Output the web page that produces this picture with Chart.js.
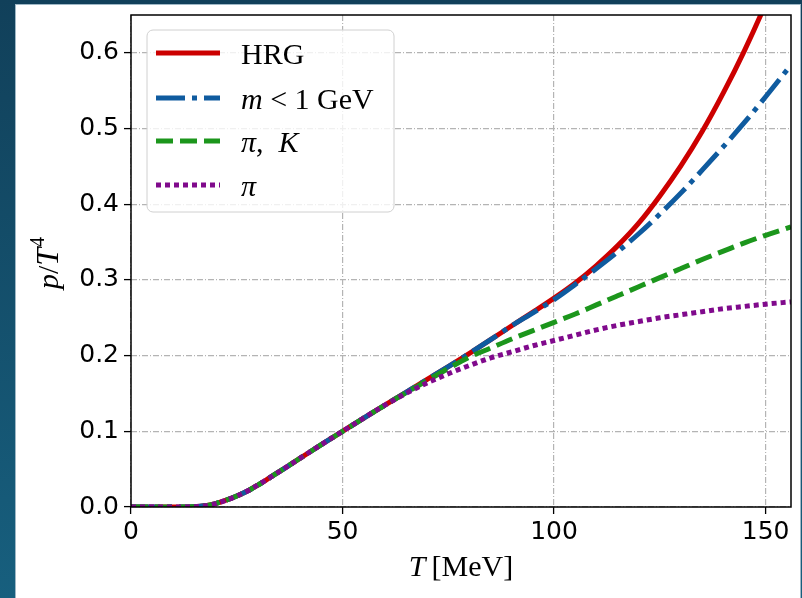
<!DOCTYPE html>
<html>
<head>
<meta charset="utf-8">
<title>p/T^4 vs T</title>
<script src="https://cdn.jsdelivr.net/npm/chart.js@4.4.0/dist/chart.umd.min.js"></script>
<style>
  html, body { margin: 0; padding: 0; }
  body {
    width: 802px; height: 598px; overflow: hidden; position: relative;
    background: linear-gradient(#11405a, #175f7e);
  }
  #panel {
    position: absolute; left: 16px; top: 5px; width: 784px; height: 593px;
    background: #fff; box-shadow: 0 0 0 1px #9fb8c6;
  }
  #pressureChart { position: absolute; left: 16px; top: -5px; }
</style>
</head>
<body>
<div id="panel"></div>
<canvas id="pressureChart" width="784" height="603"></canvas>
<script>
// temperature grid in MeV
const temps = [0, 5, 10, 15, 18, 20, 22, 25, 28, 30, 33, 36, 40, 43, 46, 50, 55, 60, 65,
               70, 75, 80, 85, 90, 95, 100, 105, 110, 115, 120, 125, 130, 135, 140, 145, 150, 156];

// p/T^4 for each particle content
const hrg    = [0, 0, 0, 0.0005, 0.002, 0.0045, 0.008, 0.0145, 0.0225, 0.029, 0.0395, 0.050, 0.0645, 0.0753, 0.086, 0.100, 0.1175, 0.1345, 0.1515,
                0.1685, 0.1855, 0.203, 0.221, 0.2395, 0.2575, 0.276, 0.296, 0.319, 0.345, 0.375, 0.411, 0.451, 0.496, 0.547, 0.603, 0.665, 0.749];
const mLight = [0, 0, 0, 0.0005, 0.002, 0.0045, 0.008, 0.0145, 0.0225, 0.029, 0.0395, 0.050, 0.0645, 0.0753, 0.086, 0.100, 0.1175, 0.1345, 0.1515,
                0.1685, 0.1855, 0.203, 0.221, 0.2395, 0.2565, 0.274, 0.294, 0.315, 0.337, 0.361, 0.387, 0.415, 0.445, 0.476, 0.508, 0.542, 0.584];
const pionKaon = [0, 0, 0, 0.0005, 0.002, 0.0045, 0.008, 0.0145, 0.0225, 0.029, 0.0395, 0.050, 0.0645, 0.0753, 0.086, 0.100, 0.1175, 0.1345, 0.151,
                0.167, 0.183, 0.198, 0.210, 0.222, 0.233, 0.244, 0.255, 0.267, 0.279, 0.291, 0.303, 0.315, 0.327, 0.338, 0.349, 0.359, 0.370];
const pion   = [0, 0, 0, 0.0005, 0.002, 0.0045, 0.008, 0.0145, 0.0225, 0.029, 0.0395, 0.050, 0.0645, 0.0753, 0.086, 0.100, 0.1175, 0.1345, 0.150,
                0.164, 0.176, 0.187, 0.197, 0.205, 0.213, 0.220, 0.227, 0.234, 0.240, 0.245, 0.250, 0.254, 0.258, 0.262, 0.265, 0.268, 0.271];

const xTicks = [0, 50, 100, 150];
const yTicks = [0.0, 0.1, 0.2, 0.3, 0.4, 0.5, 0.6];

const SERIF = '"Liberation Serif", "Times New Roman", serif';
const tickFont = { family: '"DejaVu Sans", sans-serif', size: 25 };

const series = [
  { values: hrg,      color: '#cc0000', dash: [],            order: 4,
    label: [{ t: 'HRG' }] },
  { values: mLight,   color: '#0f5b9f', dash: [29, 7, 5, 7], order: 3,
    label: [{ t: 'm', it: true }, { t: ' < 1 GeV' }] },
  { values: pionKaon, color: '#1c961c', dash: [17, 7],       order: 2,
    label: [{ t: 'π', it: true }, { t: ',  ' }, { t: 'K', it: true }] },
  { values: pion,     color: '#800a8c', dash: [5, 4],        order: 1,
    label: [{ t: 'π', it: true }] }
];

function toPoints(ys) {
  return temps.map((t, i) => ({ x: t, y: ys[i] }));
}

// draws a run of text pieces, switching between upright and italic
function drawRuns(ctx, runs, x, y, size) {
  let cx = x;
  runs.forEach(r => {
    ctx.font = (r.it ? 'italic ' : '') + (r.sz || size) + 'px ' + SERIF;
    ctx.fillText(r.t, cx, y + (r.dy || 0));
    cx += ctx.measureText(r.t).width + (r.gap || 0);
  });
  return cx - x;
}

function runsWidth(ctx, runs, size) {
  let w = 0;
  runs.forEach(r => {
    ctx.font = (r.it ? 'italic ' : '') + (r.sz || size) + 'px ' + SERIF;
    w += ctx.measureText(r.t).width + (r.gap || 0);
  });
  return w;
}

const frameAndLegend = {
  id: 'frameAndLegend',
  afterDatasetsDraw(chart) {
    const ctx = chart.ctx;
    const a = chart.chartArea;
    ctx.save();

    // axes frame
    ctx.strokeStyle = '#000';
    ctx.lineWidth = 1.5;
    ctx.setLineDash([]);
    ctx.strokeRect(a.left, a.top, a.right - a.left, a.bottom - a.top);

    // legend box
    const bx = a.left + 16, by = a.top + 15, bw = 247, bh = 182, r = 6;
    ctx.beginPath();
    ctx.moveTo(bx + r, by);
    ctx.arcTo(bx + bw, by, bx + bw, by + bh, r);
    ctx.arcTo(bx + bw, by + bh, bx, by + bh, r);
    ctx.arcTo(bx, by + bh, bx, by, r);
    ctx.arcTo(bx, by, bx + bw, by, r);
    ctx.closePath();
    ctx.fillStyle = 'rgba(255,255,255,0.8)';
    ctx.fill();
    ctx.strokeStyle = '#d0d0d0';
    ctx.lineWidth = 1;
    ctx.stroke();

    const rowY = [23, 68, 111, 155];
    series.forEach((s, i) => {
      const y = by + rowY[i];
      ctx.beginPath();
      ctx.setLineDash(s.dash);
      ctx.lineCap = 'butt';
      ctx.strokeStyle = s.color;
      ctx.lineWidth = 5;
      ctx.moveTo(bx + 9, y);
      ctx.lineTo(bx + 73, y);
      ctx.stroke();
      ctx.setLineDash([]);
      ctx.fillStyle = '#000';
      ctx.textBaseline = 'alphabetic';
      drawRuns(ctx, s.label, bx + 94, y + 11, 30);
    });
    ctx.restore();
  },
  afterDraw(chart) {
    const ctx = chart.ctx;
    const a = chart.chartArea;
    ctx.save();
    ctx.fillStyle = '#000';
    ctx.textBaseline = 'alphabetic';

    // x title: T [MeV]
    const xRuns = [{ t: 'T', it: true, gap: 6 }, { t: '[MeV]' }];
    const xw = runsWidth(ctx, xRuns, 30);
    drawRuns(ctx, xRuns, (a.left + a.right) / 2 - xw / 2, a.bottom + 69, 30);

    // y title: p/T^4, rotated
    const yRuns = [{ t: 'p', it: true }, { t: '/' }, { t: 'T', it: true, gap: 1, sz: 32 }, { t: '4', sz: 20, dy: -14 }];
    const yw = runsWidth(ctx, yRuns, 30);
    ctx.translate(42, (a.top + a.bottom) / 2 + 2);
    ctx.rotate(-Math.PI / 2);
    drawRuns(ctx, yRuns, -yw / 2, 0, 30);
    ctx.restore();
  }
};

new Chart(document.getElementById('pressureChart'), {
  type: 'line',
  data: {
    datasets: series.map(s => ({
      data: toPoints(s.values),
      borderColor: s.color,
      borderWidth: 5,
      borderDash: s.dash,
      borderCapStyle: 'butt',
      cubicInterpolationMode: 'monotone',
      pointRadius: 0,
      fill: false,
      order: s.order,
      clip: 0
    }))
  },
  options: {
    responsive: false,
    animation: false,
    devicePixelRatio: 1,
    layout: { padding: { left: 0, top: 0, right: 9, bottom: 0 } },
    plugins: { legend: { display: false }, tooltip: { enabled: false } },
    scales: {
      x: {
        type: 'linear',
        min: 0,
        max: 156,
        afterFit: scale => { scale.height = 91; },
        afterBuildTicks: scale => { scale.ticks = xTicks.map(v => ({ value: v })); },
        ticks: { font: tickFont, color: '#000', padding: 3, maxRotation: 0 },
        grid: { color: '#b4b4b4', lineWidth: 1.2, tickLength: 7, tickColor: '#000', tickWidth: 1.3 },
        border: { display: false, dash: [6, 2, 1, 2] }
      },
      y: {
        min: 0,
        max: 0.65,
        afterFit: scale => { scale.width = 115; },
        afterBuildTicks: scale => { scale.ticks = yTicks.map(v => ({ value: v })); },
        ticks: { font: tickFont, color: '#000', padding: 5, callback: v => v.toFixed(1) },
        grid: { color: '#b4b4b4', lineWidth: 1.2, tickLength: 7, tickColor: '#000', tickWidth: 1.3 },
        border: { display: false, dash: [6, 2, 1, 2] }
      }
    }
  },
  plugins: [frameAndLegend]
});
</script>
</body>
</html>
